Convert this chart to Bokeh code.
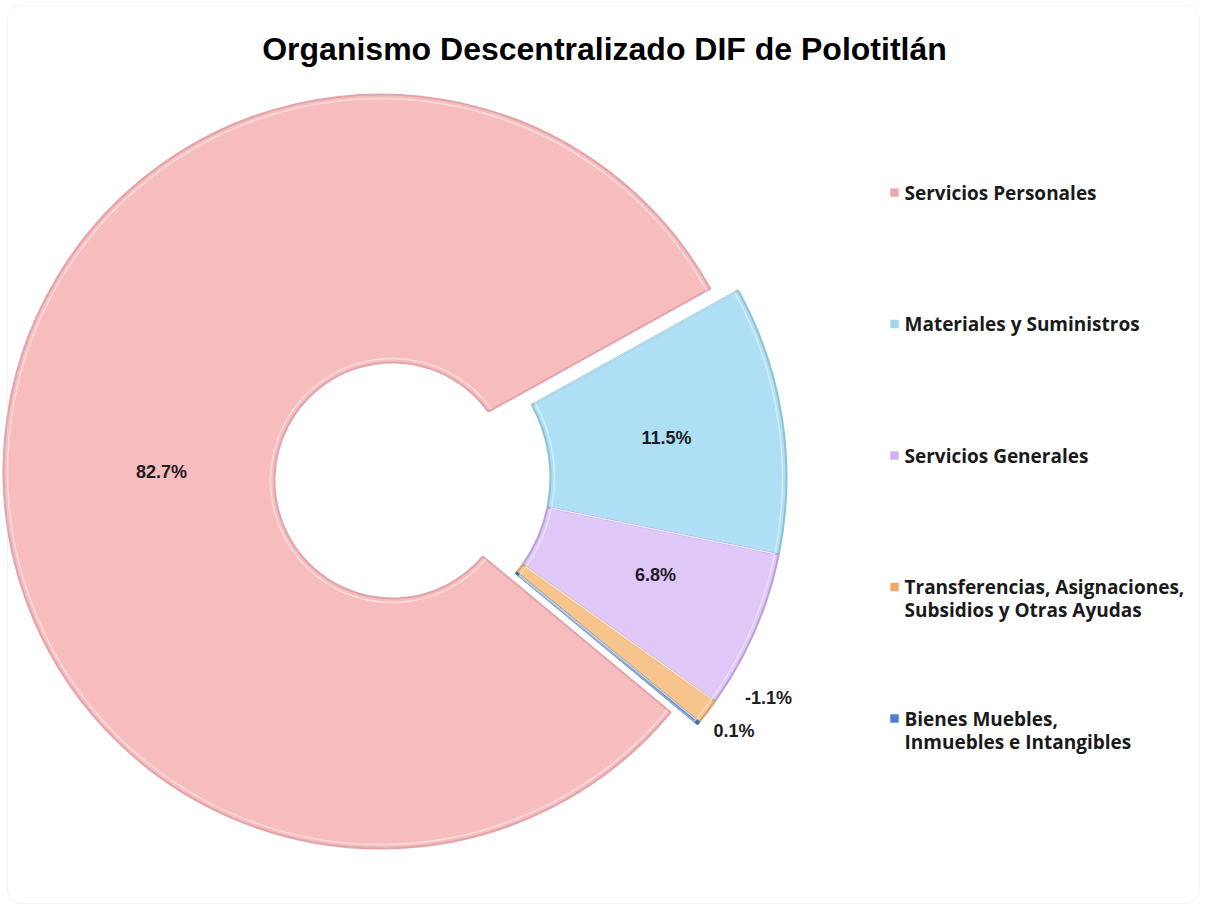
import math
from bokeh.plotting import figure
from bokeh.models import ColumnDataSource, Range1d, BoxAnnotation
from bokeh.core.properties import value
from bokeh.embed import file_html
from bokeh.resources import INLINE

# ---------------- data ----------------
title_text = "Organismo Descentralizado DIF de Polotitlán"
categories = [
    "Servicios Personales",
    "Materiales y Suministros",
    "Servicios Generales",
    "Transferencias, Asignaciones, Subsidios y Otras Ayudas",
    "Bienes Muebles, Inmuebles e Intangibles",
]
legend_lines = [
    ["Servicios Personales"],
    ["Materiales y Suministros"],
    ["Servicios Generales"],
    ["Transferencias, Asignaciones,", "Subsidios y Otras Ayudas"],
    ["Bienes Muebles,", "Inmuebles e Intangibles"],
]
percentages = [82.7, 11.5, 6.8, -1.1, 0.1]
labels = ["82.7%", "11.5%", "6.8%", "-1.1%", "0.1%"]
colors = ["#f7bcbd", "#aedff4", "#dfc7f7", "#f7c48e", "#4f81c7"]
edge_colors = ["#e3a3aa", "#8cc2d6", "#b7a0d6", "#d99d66", "#3a6aa8"]
marker_colors = ["#eea6ae", "#9fd6ee", "#cdb4f0", "#eeaa6a", "#4a7fc8"]

# ---------------- layout ----------------
W, H = 1200, 904


def sx(X):
    return X


def sy(Y):
    return H - Y


PX, PY = sx(380), sy(471)              # centre of the main (pink) slice
HX, HY, R_HOLE = sx(392), sy(480), 118  # donut hole
EXPLODE_DX, EXPLODE_DY = 20, -6        # offset of the detached slices
R_OUT_MAIN = 377
R_OUT_DET, R_IN_DET = 386, 150
first_detached_start = 29.0            # angle (deg) where the blue slice begins
label_r = [219, 269, 273, 429, 419]
label_da = [5.6, -0.2, 2.5, 6.5, 2.25]

p = figure(width=W, height=H, output_backend="svg", toolbar_location=None,
           x_range=Range1d(0, W), y_range=Range1d(0, H),
           x_axis_type=None, y_axis_type=None, min_border=0,
           outline_line_color=None, background_fill_color="white",
           border_fill_color="white")
p.grid.visible = False

# frame with rounded corners
p.add_layout(BoxAnnotation(left=7, right=1199, bottom=sy(903), top=sy(5),
                           fill_color=None, line_color="#d6d6d6", line_width=1.2,
                           border_radius=14))

# ---------------- wedges ----------------
total = sum(abs(v) for v in percentages)
spans = [abs(v) / total * 360.0 for v in percentages]
xs, ys, starts, ends, bis_list = [], [], [], [], []
cur = first_detached_start + spans[0]
for i, sp in enumerate(spans):
    a0 = cur
    a1 = cur - sp
    if i == 0:
        xs.append(PX)
        ys.append(PY)
    else:
        xs.append(PX + EXPLODE_DX)
        ys.append(PY + EXPLODE_DY)
    starts.append(math.radians(a1))
    ends.append(math.radians(a0))
    bis_list.append((a0 + a1) / 2)
    cur = a1

# main slice: wedge + hole
p.wedge(x=[xs[0]], y=[ys[0]], radius=R_OUT_MAIN, start_angle=[starts[0]],
        end_angle=[ends[0]], direction="anticlock", fill_color=colors[0],
        line_color=edge_colors[0], line_width=2)
p.arc(x=[xs[0]], y=[ys[0]], radius=R_OUT_MAIN - 4, start_angle=[starts[0]],
      end_angle=[ends[0]], direction="anticlock", line_color="white",
      line_alpha=0.5, line_width=1.5)


def hole_angle(a):
    # angle (seen from the hole centre) where the radial edge at angle a meets the hole
    dx, dy = math.cos(a), math.sin(a)
    fx, fy = xs[0] - HX, ys[0] - HY
    b = fx * dx + fy * dy
    t = -b + math.sqrt(b * b - (fx * fx + fy * fy) + R_HOLE ** 2)
    qx, qy = xs[0] + t * dx, ys[0] + t * dy
    return math.atan2(qy - HY, qx - HX)


p.circle(x=[HX], y=[HY], radius=R_HOLE, fill_color="white", line_color=None)
p.arc(x=[HX], y=[HY], radius=R_HOLE, start_angle=[hole_angle(starts[0])],
      end_angle=[hole_angle(ends[0])], direction="anticlock",
      line_color=edge_colors[0], line_width=2)
p.arc(x=[HX], y=[HY], radius=R_HOLE + 4, start_angle=[hole_angle(starts[0])],
      end_angle=[hole_angle(ends[0])], direction="anticlock",
      line_color="white", line_alpha=0.5, line_width=1.5)

# detached slices
src = ColumnDataSource(dict(x=xs[1:], y=ys[1:], start=starts[1:], end=ends[1:],
                            fill=colors[1:], edge=edge_colors[1:], cat=categories[1:]))
p.annular_wedge(x="x", y="y", inner_radius=R_IN_DET, outer_radius=R_OUT_DET,
                start_angle="start", end_angle="end", direction="anticlock",
                fill_color="fill", line_color="edge", line_width=2, source=src)
p.annular_wedge(x="x", y="y", inner_radius=R_IN_DET + 4, outer_radius=R_OUT_DET - 4,
                start_angle="start", end_angle="end", direction="anticlock",
                fill_color=None, line_color="white", line_alpha=0.45,
                line_width=1.5, source=src)

# ---------------- labels ----------------
lx, ly = [], []
for i in range(len(labels)):
    ang = math.radians(bis_list[i] + label_da[i])
    lx.append(xs[i] + label_r[i] * math.cos(ang))
    ly.append(ys[i] + label_r[i] * math.sin(ang))
p.text(x=lx, y=ly, text=labels, text_align="center", text_baseline="middle",
       text_font=value("Liberation Sans"), text_font_style="bold",
       text_font_size="18px", text_color="#1c1c24")

# ---------------- title ----------------
p.text(x=[sx(604)], y=[sy(48)], text=[title_text], text_align="center",
       text_baseline="middle", text_font=value("Liberation Sans"),
       text_font_style="bold", text_font_size="32px", text_color="#000000")

# ---------------- legend ----------------
leg_y0, leg_step, line_h = 192, 131.5, 23
mx, my, tx, ty, tt = [], [], [], [], []
for i, lines in enumerate(legend_lines):
    yc = leg_y0 + i * leg_step
    mx.append(sx(894))
    my.append(sy(yc))
    for j, ln in enumerate(lines):
        tx.append(sx(904))
        ty.append(sy(yc + j * line_h))
        tt.append(ln)
p.scatter(x=mx, y=my, marker="square", size=9, fill_color=marker_colors,
          line_color="#ffffff", line_alpha=0.6, line_width=1)
p.text(x=tx, y=ty, text=tt, text_align="left", text_baseline="middle",
       text_font=value("Open Sans"), text_font_style="bold", text_font_size="19px",
       text_color="#1a1a1a")

open("out.html", "w").write(file_html(p, INLINE))
